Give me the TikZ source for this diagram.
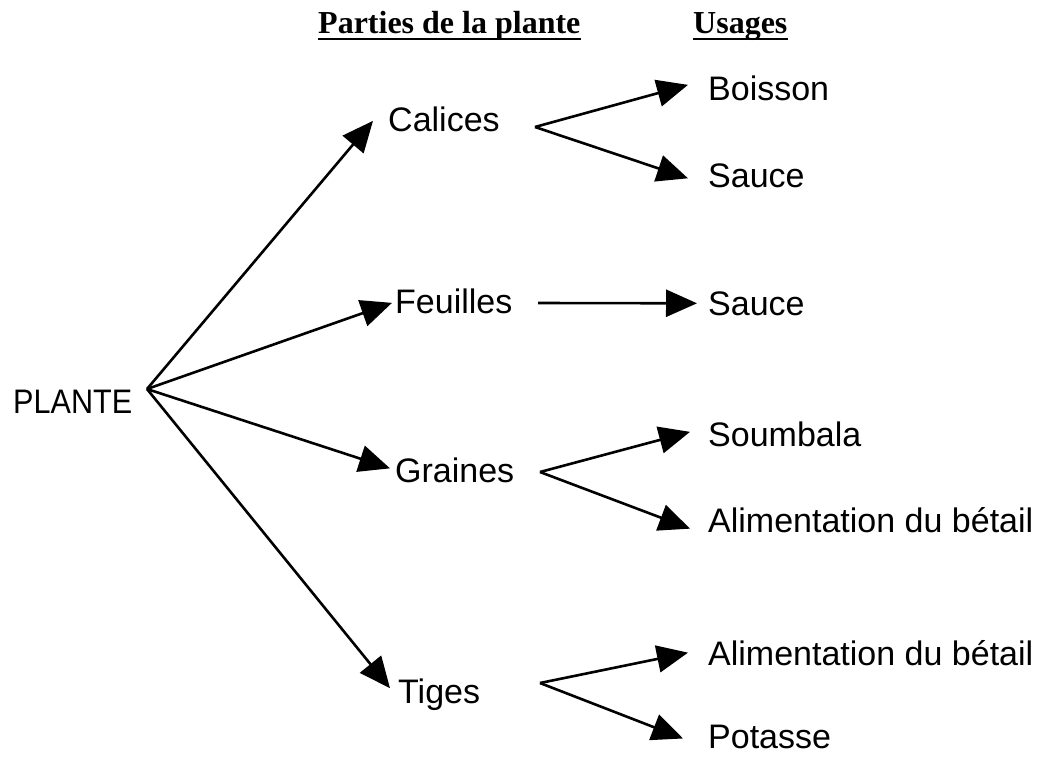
\documentclass[tikz,border=0pt]{standalone}
\usepackage{fontspec}
\setmainfont{Liberation Sans}
\newfontfamily\headfont{Liberation Serif}
\usetikzlibrary{arrows.meta,calc}
\begin{document}
\begin{tikzpicture}[x=1pt,y=-1pt,
  lbl/.style={anchor=base west, inner sep=0pt, font=\fontsize{34}{38}\selectfont},
  head/.style={anchor=base west, inner sep=0pt, font=\headfont\bfseries\fontsize{32}{36}\selectfont},
  uline/.style={line width=2.2pt},
  link/.style={line width=2.6pt, -{Triangle[length=31pt,width=27pt]}}]
\useasboundingbox (0,0) rectangle (1048,756);

% column headings
\node[head] (hparts) at (318,33) {Parties de la plante};
\node[head] (husages) at (693,33) {Usages};
\draw[uline] ($(hparts.base west)+(0,6)$) -- ($(hparts.base east)+(0,6)$);
\draw[uline] ($(husages.base west)+(0,6)$) -- ($(husages.base east)+(0,6)$);

% root (set a little narrower so it clears the branching point)
\node[lbl] (plante) at (13,413) {\scalebox{0.9}[1]{PLANTE}};
\coordinate (hub) at (147,389);

% plant parts
\node[lbl] (calices) at (388,131) {Calices};
\node[lbl] (feuilles) at (395,313) {Feuilles};
\node[lbl] (graines) at (395,482) {Graines};
\node[lbl] (tiges) at (398,703) {Tiges};

% uses
\node[lbl] (boisson) at (708,100) {Boisson};
\node[lbl] (sauceA) at (708,187) {Sauce};
\node[lbl] (sauceB) at (708,315) {Sauce};
\node[lbl] (soumbala) at (708,446) {Soumbala};
\node[lbl] (alimA) at (708,532) {Alimentation du bétail};
\node[lbl] (alimB) at (708,665) {Alimentation du bétail};
\node[lbl] (potasse) at (708,748) {Potasse};

% branching points after each part
\coordinate (forkC) at (535,127);
\coordinate (forkF) at (538,303);
\coordinate (forkG) at (540,472);
\coordinate (forkT) at (540,683);

% root to parts
\draw[link] (hub) -- ($(calices.west)+(-15,2)$);
\draw[link] (hub) -- ($(feuilles.west)+(-3,2)$);
\draw[link] (hub) -- ($(graines.west)+(-5,-1.5)$);
\draw[link] (hub) -- ($(tiges.west)+(-8,-6)$);

% parts to uses
\draw[link] (forkC) -- ($(boisson.west)+(-20,-3)$);
\draw[link] (forkC) -- ($(sauceA.west)+(-20,3)$);
\draw[link] (forkF) -- ($(sauceB.west)+(-11,0)$);
\draw[link] (forkG) -- ($(soumbala.west)+(-18,-2)$);
\draw[link] (forkG) -- ($(alimA.west)+(-18,9)$);
\draw[link] (forkT) -- ($(alimB.west)+(-20,0)$);
\draw[link] (forkT) -- ($(potasse.west)+(-25,2)$);
\end{tikzpicture}
\end{document}
